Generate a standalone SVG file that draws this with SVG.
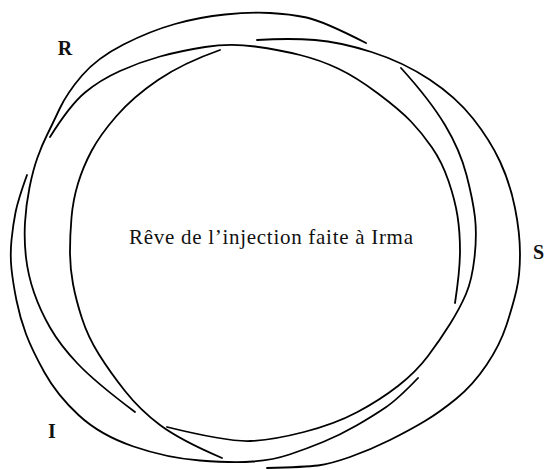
<svg xmlns="http://www.w3.org/2000/svg" width="547" height="470" viewBox="0 0 547 470">
<style>
.ring{fill:none;stroke:#000;stroke-width:1.8;stroke-linecap:round;stroke-linejoin:round}
.lbl{font-family:"Liberation Serif",serif;font-weight:bold;font-size:20px;fill:#111}
.cap{font-family:"Liberation Serif",serif;font-size:21px;fill:#111}
</style>
<rect width="547" height="470" fill="#fff"/>
<g id="connectors">
<g id="ring-R">
<path class="ring" d="M135,412 Q95,382 77.5,363.5 Q60,345 50,327.5 Q40,310 34,292.5 Q28,275 26,257.5 Q24,240 25,222.5 Q26,205 29.5,187.5 Q33,170 37.5,157.5 Q42,145 47,135 Q52,125 59.5,109 Q67,93 82,75.5 Q97,58 123.5,44.5 Q150,31 175,24 Q200,17 225,14.5 Q250,12 270,13 Q290,14 306.5,17.5 Q323,21 366,43"/>
<path class="ring" d="M401,68 Q430,100 445,125 Q460,150 466.5,175 Q473,200 475,217.5 Q477,235 474.5,257.5 Q472,280 466,294 Q460,308 450,324 Q440,340 428,356 Q416,372 398,386 Q380,400 357.5,412 Q335,424 304,432 Q273,440 250.5,441 Q228,442 167,427"/>
</g>
<g id="ring-I">
<path class="ring" d="M27,175 Q18,200 15.5,212.5 Q13,225 11.5,240 Q10,255 11.5,269 Q13,283 16.5,300.5 Q20,318 26,334 Q32,350 44.5,372.5 Q57,395 78.5,415 Q100,435 133.5,446.5 Q167,458 200,460.5 Q233,463 253,461.5 Q273,460 289.5,454.5 Q306,449 323,442 Q340,435 356.5,425.5 Q373,416 385.5,407.5 Q398,399 418,378"/>
<path class="ring" d="M455,303 Q460,270 460,251 Q460,232 457.5,216 Q455,200 448.5,181 Q442,162 432,147.5 Q422,133 411,121.5 Q400,110 378,93.5 Q356,77 338,68.5 Q320,60 300,55 Q280,50 255,46.5 Q230,43 205,47 Q180,51 160,56.5 Q140,62 120,71 Q100,80 85,92.5 Q70,105 50,137"/>
</g>
<g id="ring-S">
<path class="ring" d="M257,40 Q290,38 315,40 Q340,42 371.5,52 Q403,62 429.5,79.5 Q456,97 473,118.5 Q490,140 500,161.5 Q510,183 515,208 Q520,233 520,254 Q520,275 516.5,290 Q513,305 506.5,325 Q500,345 486.5,365 Q473,385 456.5,398.5 Q440,412 425,421 Q410,430 390,440 Q370,450 350,457 Q330,464 318,465.5 Q306,467 267,468"/>
<path class="ring" d="M220,50 Q183,63 158,80 Q133,97 116.5,116 Q100,135 91.5,151 Q83,167 78,183.5 Q73,200 71.5,217.5 Q70,235 70,251.5 Q70,268 73,284 Q76,300 82,318.5 Q88,337 99,354.5 Q110,372 125,391 Q140,410 160,425 Q180,440 222,458"/>
</g>
</g>
<g id="node-R"><text class="lbl" x="65" y="55" text-anchor="middle">R</text></g>
<g id="node-I"><text class="lbl" x="52" y="438" text-anchor="middle">I</text></g>
<g id="node-S"><text class="lbl" x="533" y="259">S</text></g>
<g id="node-center"><text class="cap" x="129" y="244" textLength="284" lengthAdjust="spacing">Rêve de l’injection faite à Irma</text></g>
</svg>
